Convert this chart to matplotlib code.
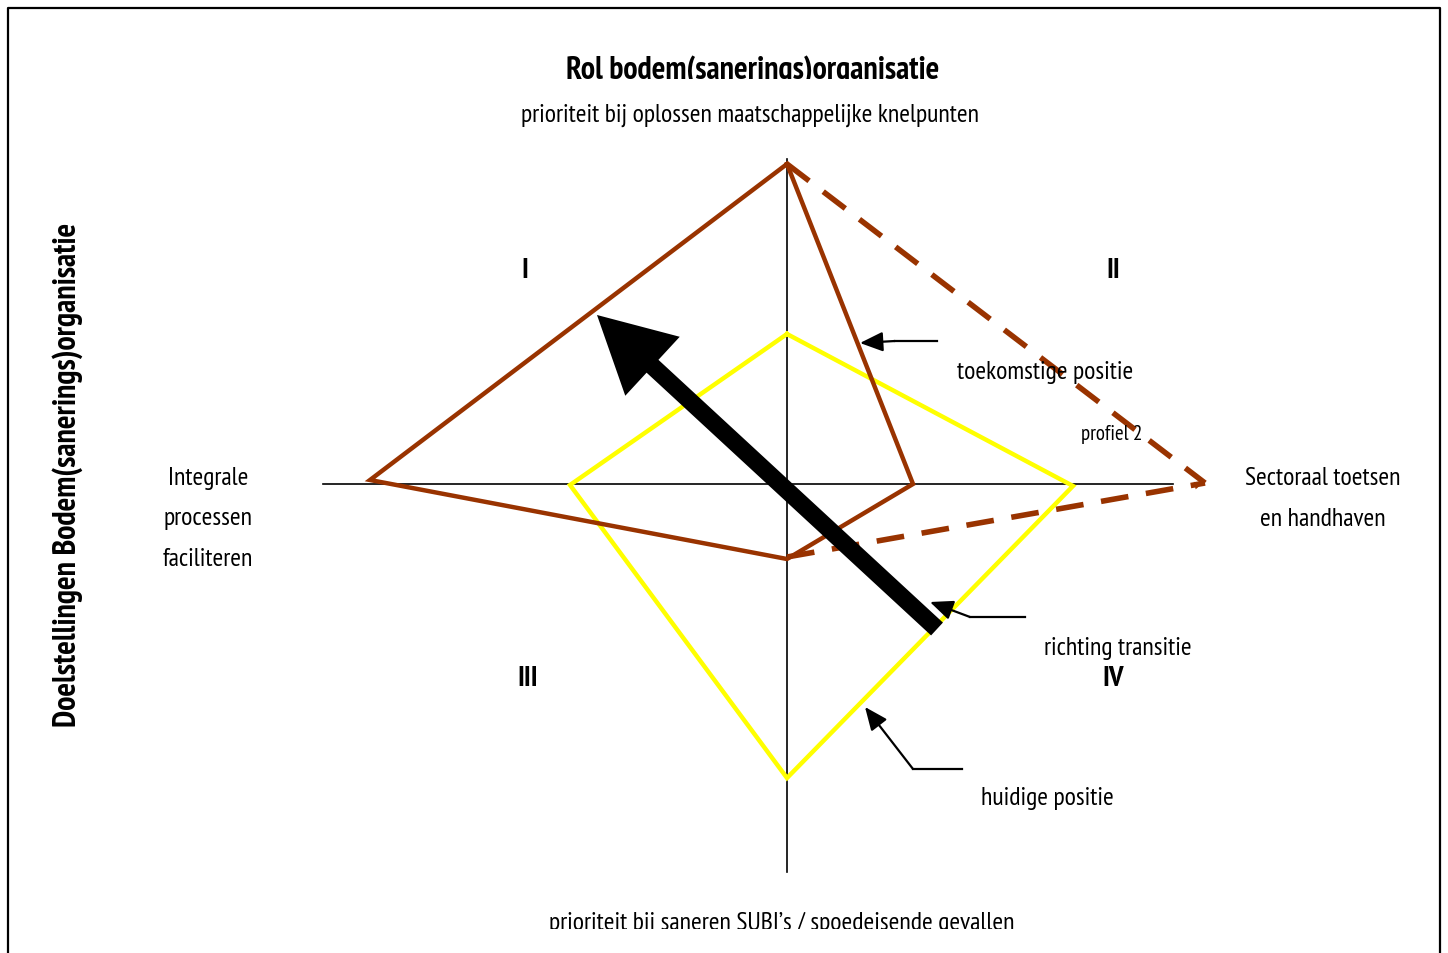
import matplotlib.pyplot as plt
from matplotlib import font_manager
from matplotlib.transforms import Bbox

# narrow sans, close to Arial Narrow
names = {f.name for f in font_manager.fontManager.ttflist}
FAMILY = 'Liberation Sans'
for cand in ['Liberation Sans Narrow', 'Arial Narrow', 'PT Sans Narrow', 'Roboto Condensed', 'Archivo Narrow']:
    if cand in names:
        FAMILY = cand
        break
plt.rcParams['font.family'] = [FAMILY, 'DejaVu Sans']

BROWN = '#993300'
YELLOW = '#ffff00'

# diagram coordinates (origin = crossing of the axes, y up)
future_x = [0, 126, 0, -417, 0]
future_y = [320, 0, -75, 4, 320]
profiel2_top_x = [0, 418]
profiel2_top_y = [320, 1]
profiel2_bot_x = [0, 418]
profiel2_bot_y = [-73, 1]
current_x = [0, 286, 0, -217, 0]
current_y = [150, -2, -294, -1, 150]
haxis_x = [-464, 386]
vaxis_y = [-388, 325]
transition_start = (150, -145)
transition_end = (-190, 169)

quadrants = ['I', 'II', 'III', 'IV']
quad_x = [-262, 326, -259, 326]
quad_y = [214, 214, -194, -194]

left_lines = ['Integrale', 'processen', 'faciliteren']
right_lines = ['Sectoraal toetsen', 'en handhaven']
line_y = [6, -34, -74]

fig = plt.figure(figsize=(14.48, 9.54), dpi=100)
ax = fig.add_axes([0, 0, 1, 1])
ax.set_xlim(-787, 661)
ax.set_ylim(-469, 485)
ax.axis('off')

# outer frame (bottom edge is cut off)
ax.plot([0.0055, 0.0055, 0.9945, 0.9945], [0, 0.9906, 0.9906, 0],
        transform=ax.transAxes, color='black', lw=1.6, clip_on=False)

# axes cross
ax.plot(haxis_x, [0, 0], color='black', lw=1.2)
ax.plot([0, 0], vaxis_y, color='black', lw=1.2)

# shapes
ax.plot(current_x, current_y, color=YELLOW, lw=3.2, solid_joinstyle='miter')
ax.plot(future_x, future_y, color=BROWN, lw=3.2, solid_joinstyle='miter')
ax.plot(profiel2_top_x, profiel2_top_y, color=BROWN, lw=4, linestyle=(0, (5, 3.2)))
ax.plot(profiel2_bot_x, profiel2_bot_y, color=BROWN, lw=4, linestyle=(0, (5, 3.2)))
ax.annotate('', xy=(profiel2_top_x[1], profiel2_top_y[1]),
            xytext=(profiel2_top_x[1] - 12, profiel2_top_y[1] - 3),
            arrowprops=dict(arrowstyle='-|>', color=BROWN, lw=0, mutation_scale=14))

# transition arrow
ax.annotate('', xy=transition_end, xytext=transition_start,
            arrowprops=dict(arrowstyle='simple,head_length=1.6,head_width=1.7,tail_width=0.37',
                            color='black', lw=0, mutation_scale=34, shrinkA=0, shrinkB=0))

# leader arrows for labels
leaders = [
    ([150, 108], [143, 143], (73, 141)),
    ([238, 183], [-133, -133], (143, -118)),
    ([175, 126], [-285, -285], (78, -223)),
]
for lx, ly, tip in leaders:
    ax.plot(lx, ly, color='black', lw=1.6)
    ax.annotate('', xy=tip, xytext=(lx[1], ly[1]),
                arrowprops=dict(arrowstyle='-|>,head_length=0.7,head_width=0.3', color='black',
                                lw=1.6, mutation_scale=20, shrinkA=0, shrinkB=0))

fs = 18.5
ax.text(258, 112, 'toekomstige positie', fontsize=fs, ha='center', va='center')
ax.text(331, -164, 'richting transitie', fontsize=fs, ha='center', va='center')
ax.text(260, -314, 'huidige positie', fontsize=fs, ha='center', va='center')
ax.text(325, 50, 'profiel 2', fontsize=15, ha='center', va='center')

for q, qx, qy in zip(quadrants, quad_x, quad_y):
    ax.text(qx, qy, q, fontsize=21, fontweight='bold', ha='center', va='center')

# axis end labels
for s, y in zip(left_lines, line_y):
    ax.text(-579, y, s, fontsize=fs, ha='center', va='center')
for s, y in zip(right_lines, line_y):
    ax.text(536, y, s, fontsize=fs, ha='center', va='center')
ax.text(-37, 370, 'prioriteit bij oplossen maatschappelijke knelpunten', fontsize=fs,
        ha='center', va='center')

title = ax.text(-34, 414, 'Rol bodem(sanerings)organisatie', fontsize=23, fontweight='bold',
                ha='center', va='center')
title.set_clip_box(Bbox.from_extents(0, 954 - 80, 1448, 954))
title.set_clip_on(True)

bottom = ax.text(-5, -438, 'prioriteit bij saneren SUBI\u2019s / spoedeisende gevallen', fontsize=fs,
                 ha='center', va='center')
bottom.set_clip_box(Bbox.from_extents(0, 954 - 930, 1448, 954))
bottom.set_clip_on(True)

ax.text(-719, 10, 'Doelstellingen Bodem(sanerings)organisatie', fontsize=23, fontweight='bold',
        ha='center', va='center', rotation=90)

fig.savefig('out.png', dpi=100)
